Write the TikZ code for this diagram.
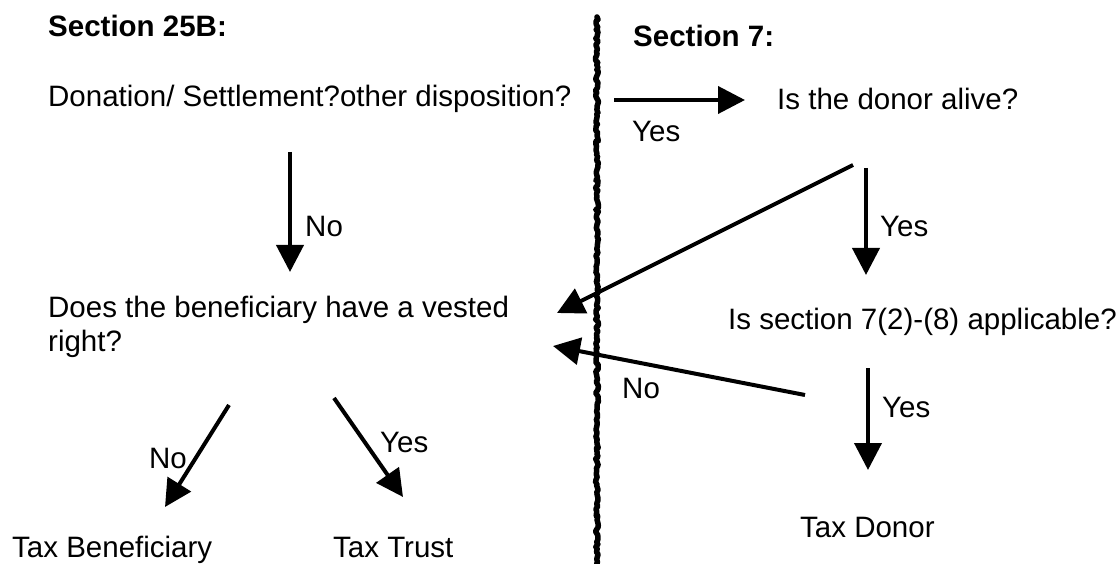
\documentclass[tikz,border=0pt]{standalone}
\usepackage{fontspec}
\setmainfont{Liberation Sans}
\usetikzlibrary{arrows.meta,decorations.pathmorphing}
\begin{document}
\begin{tikzpicture}[x=1pt,y=-1pt,
  txt/.style={anchor=base west,inner sep=0pt,font=\fontsize{29.5}{34}\selectfont},
  head/.style={txt,font=\fontsize{29.5}{34}\selectfont\bfseries},
  flow/.style={line width=4pt,-{Triangle[length=27pt,width=27pt]}},
  divider/.style={line width=5.5pt,line cap=round,line join=round,
    decorate,decoration={random steps,segment length=2.5pt,amplitude=1.5pt}}]
\useasboundingbox (0,0) rectangle (1117,564);

% dividing line between the two sections
\coordinate (divtop) at (597,17);
\coordinate (divbot) at (597,566);
\draw[divider] (divtop) -- (divbot);

% section 25B
\node[head] (h25) at (48,37) {Section 25B:};
\node[txt] (don) at (48,107) {Donation/ Settlement?other disposition?};
\node[txt,align=left] (vest) at (48,351) {Does the beneficiary have a vested\\right?};
\node[txt] (tben) at (12,557) {Tax Beneficiary};
\node[txt] (ttr) at (333,557) {Tax Trust};

% section 7
\node[head] (h7) at (633,47) {Section 7:};
\node[txt] (alive) at (777,110) {Is the donor alive?};
\node[txt] (appl) at (728,329) {Is section 7(2)-(8) applicable?};
\node[txt] (tdon) at (800,537) {Tax Donor};

% arrow end points
\coordinate (a1s) at (290,152);  \coordinate (a1e) at (290,272);
\coordinate (a2s) at (614,100);  \coordinate (a2e) at (745,100);
\coordinate (a3s) at (853,165);  \coordinate (a3e) at (557,313);
\coordinate (a4s) at (866,168);  \coordinate (a4e) at (866,275);
\coordinate (a5s) at (805,395);  \coordinate (a5e) at (553,346);
\coordinate (a6s) at (868,368);  \coordinate (a6e) at (868,470);
\coordinate (a7s) at (229,405);  \coordinate (a7e) at (165,507);
\coordinate (a8s) at (334,398);  \coordinate (a8e) at (403,497);

\draw[flow] (a1s) -- (a1e);
\draw[flow] (a2s) -- (a2e);
\draw[flow] (a3s) -- (a3e);
\draw[flow] (a4s) -- (a4e);
\draw[flow] (a5s) -- (a5e);
\draw[flow] (a6s) -- (a6e);
\draw[flow] (a7s) -- (a7e);
\draw[flow] (a8s) -- (a8e);

% arrow labels
\node[txt] (l1) at (305,237) {No};
\node[txt] (l2) at (632,142) {Yes};
\node[txt] (l4) at (880,237) {Yes};
\node[txt] (l5) at (622,398) {No};
\node[txt] (l6) at (882,417) {Yes};
\node[txt] (l7) at (149,468) {No};
\node[txt] (l8) at (380,452) {Yes};
\end{tikzpicture}
\end{document}
